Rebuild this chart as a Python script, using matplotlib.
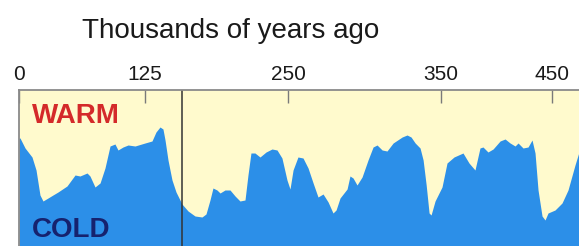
import numpy as np
import matplotlib
matplotlib.use("Agg")
import matplotlib.pyplot as plt

# ---- data ----
years = [0.0, 1.0, 6.0, 12.9, 16.9, 20.8, 23.8, 28.8, 33.7, 38.7, 47.6, 55.6, 60.5,
         67.5, 70.4, 75.4, 80.4, 85.3, 90.3, 95.2, 98.2, 103.2, 108.2, 115.1, 125.0,
         131.1, 134.6, 138.1, 140.7, 142.5, 145.1, 148.6, 152.1, 157.3, 162.6, 168.7,
         174.8, 178.3, 181.8, 184.4, 187.9, 190.6, 194.9, 199.3, 203.7, 208.0, 212.4,
         215.0, 217.6, 221.1, 225.5, 230.8, 236.0, 240.4, 244.7, 249.1,
         251.3, 253.3, 256.5, 259.8, 263.1, 266.4, 269.6, 272.9, 276.2, 279.4, 281.4,
         284.0, 288.6, 290.5, 292.5, 295.1, 298.4, 302.3, 305.6, 308.2, 311.5, 314.7,
         318.7, 324.6, 327.8, 330.4, 333.1, 336.3, 338.3, 340.3, 342.2, 343.5, 346.1,
         350.9, 355.4, 361.7, 369.8, 375.2, 380.6, 385.1, 387.8, 392.3, 396.9, 403.2,
         407.7, 412.2, 416.7, 419.4, 423.9, 428.4, 432.0, 434.7, 437.4, 441.0, 443.7,
         446.4, 452.7, 459.0, 464.4, 470.7, 474.3]
temperature = [112, 112, 102, 93, 80, 55, 49, 52, 55, 58, 64, 75, 74,
               77, 74, 63, 67, 82, 104, 106, 100, 103, 105, 104, 107,
               109, 118, 123, 121, 110, 90, 70, 58, 46, 39, 34,
               33, 36, 50, 62, 60, 57, 60, 60, 54, 49, 50,
               75, 97, 97, 93, 98, 101, 100, 92, 70,
               61, 80, 93, 92, 82, 67, 53, 56, 48, 37, 40,
               52, 61, 74, 72, 65, 73, 90, 103, 105, 100, 99,
               107, 113, 115, 113, 107, 102, 90, 65, 37, 35, 49,
               63, 87, 93, 97, 87, 80, 102, 103, 98, 101, 109,
               111, 107, 104, 107, 102, 103, 110, 97, 60, 34,
               30, 37, 40, 47, 60, 85, 98]
tick_years = [0, 125, 250, 350, 450]
tick_labels = ["0", "125", "250", "350", "450"]
marker_year = 157.3
title = "Thousands of years ago"

# ---- non-linear time axis (piecewise linear scale) ----
knot_years = np.array([-1000, 0, 125, 250, 350, 450, 1500], dtype=float)
knot_pos = np.array([19 - 1008, 19, 145, 288, 441, 552, 552 + 1050 * 1.11], dtype=float)

def fwd(x):
    return np.interp(x, knot_years, knot_pos)

def inv(p):
    return np.interp(p, knot_pos, knot_years)

W, H = 579, 246
fig = plt.figure(figsize=(W / 100, H / 100), dpi=100)
fig.patch.set_facecolor("white")
ax = fig.add_axes([19 / W, 0, 1 - 19 / W, 1 - 90 / H])
ax.set_xscale("function", functions=(fwd, inv))
ax.set_facecolor("#FFFACD")

blue = "#2C8FE8"
ax.fill_between(years, -10, temperature, color=blue, lw=0)
ax.axvline(marker_year, color="#333333", lw=1.1, zorder=3)

ax.set_xlim(0, 474.3)
ax.set_ylim(4, 160)

for s in ["right", "bottom"]:
    ax.spines[s].set_visible(False)
for s in ["top", "left"]:
    ax.spines[s].set_color("#8a8a8a")
    ax.spines[s].set_linewidth(1.3)
    ax.spines[s].set_zorder(4)

ax.set_yticks([])
ax.set_xticks(tick_years)
ax.set_xticklabels(tick_labels)
ax.tick_params(axis="x", which="both", bottom=False, top=True, labelbottom=False,
               labeltop=True, direction="in", length=9, width=1.0, color="#7a7a7a",
               pad=4, labelsize=15, labelcolor="#1a1a1a")
for lab in ax.get_xticklabels():
    lab.set_fontfamily("Liberation Sans")
ax.xaxis.set_minor_locator(matplotlib.ticker.NullLocator())

fig.text(231 / W, 1 - 38 / H, title, ha="center", va="baseline",
         fontsize=20, family="Liberation Sans", color="#1a1a1a")
fig.text(32 / W, 1 - 123 / H, "WARM", ha="left", va="baseline", fontsize=20,
         fontweight="bold", family="Liberation Sans", color="#D42A2A", zorder=5)
fig.text(32 / W, 1 - 237 / H, "COLD", ha="left", va="baseline", fontsize=20,
         fontweight="bold", family="Liberation Sans", color="#16226E", zorder=5)

fig.savefig("out.png", dpi=100)
